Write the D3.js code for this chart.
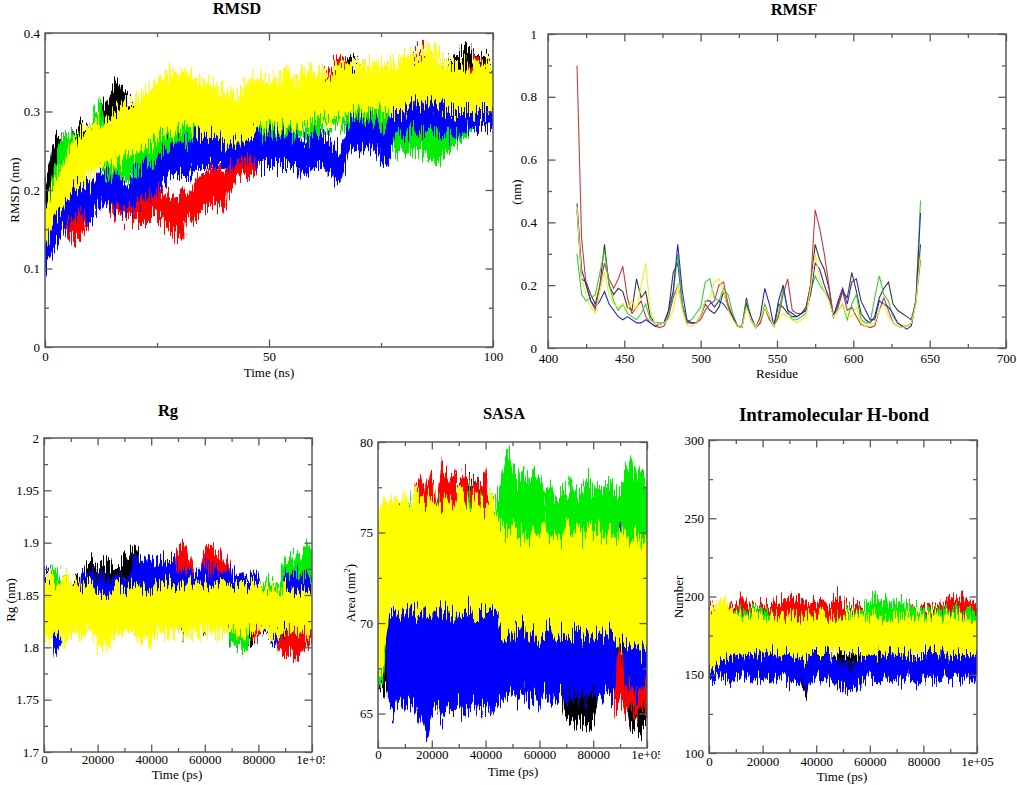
<!DOCTYPE html>
<html>
<head>
<meta charset="utf-8">
<script src="https://cdn.jsdelivr.net/npm/d3@7"></script>
<style>
body { margin: 0; background: #fff; }
svg { display: block; }
</style>
</head>
<body>
<svg id="fig" width="1017" height="785"></svg>
<script>
// series colours, in xmgrace order: black, red, green, blue, yellow
var COLORS = ['#000000', '#ff0000', '#00ee00', '#0000ff', '#ffff00'];
var RMSF_COLORS = ['#3a3a3a', '#c43c3c', '#3cc83c', '#2a2ab8', '#eeee30'];
var FONT = '"Liberation Serif", "Times New Roman", serif';

// ---- RMSD (nm), every 2 ns, lower / upper edge of the noise band ----
var rmsdTime = d3.range(0, 101, 2);
var rmsdBlackLo = [0.15,0.19,0.21,0.22,0.23,0.23,0.24,0.26,0.27,0.26, 0.25,0.24,0.25,0.24,0.25,0.25,0.26,0.25,0.26,0.25, 0.25,0.24,0.25,0.26,0.25,0.27,0.26,0.28,0.27,0.28, 0.29,0.28,0.30,0.31,0.31,0.32,0.31,0.32,0.31,0.32, 0.31,0.32,0.32,0.31,0.32,0.31,0.32,0.33,0.32,0.33, 0.32];
var rmsdBlackHi = [0.20,0.26,0.27,0.27,0.28,0.28,0.30,0.31,0.34,0.32, 0.31,0.29,0.30,0.29,0.30,0.30,0.31,0.30,0.31,0.30, 0.30,0.29,0.30,0.31,0.30,0.32,0.31,0.32,0.33,0.32, 0.34,0.33,0.35,0.36,0.37,0.36,0.36,0.35,0.36,0.35, 0.36,0.37,0.36,0.36,0.37,0.36,0.37,0.38,0.37,0.37, 0.36];
var rmsdRedLo = [0.11,0.14,0.15,0.14,0.14,0.16,0.18,0.18,0.17,0.16, 0.16,0.16,0.17,0.16,0.15,0.14,0.16,0.17,0.18,0.18, 0.18,0.21,0.22,0.22,0.23,0.24,0.26,0.28,0.29,0.29, 0.30,0.31,0.32,0.32,0.32,0.32,0.31,0.31,0.30,0.30, 0.31,0.33,0.33,0.32,0.31,0.31,0.31,0.32,0.32,0.32, 0.32];
var rmsdRedHi = [0.15,0.18,0.19,0.18,0.19,0.20,0.22,0.22,0.21,0.20, 0.20,0.21,0.22,0.20,0.19,0.19,0.20,0.21,0.22,0.23, 0.22,0.25,0.26,0.27,0.27,0.29,0.30,0.32,0.33,0.34, 0.34,0.35,0.36,0.37,0.36,0.36,0.35,0.35,0.34,0.35, 0.36,0.37,0.38,0.37,0.36,0.35,0.36,0.36,0.37,0.36, 0.36];
var rmsdGreenLo = [0.11,0.17,0.21,0.22,0.21,0.23,0.23,0.22,0.21,0.22, 0.22,0.23,0.23,0.24,0.25,0.25,0.25,0.25,0.26,0.25, 0.25,0.26,0.27,0.27,0.26,0.26,0.26,0.27,0.27,0.27, 0.26,0.28,0.28,0.28,0.28,0.28,0.27,0.26,0.26,0.25, 0.25,0.25,0.25,0.24,0.24,0.25,0.26,0.27,0.28,0.28, 0.28];
var rmsdGreenHi = [0.15,0.23,0.27,0.27,0.27,0.28,0.31,0.28,0.27,0.28, 0.28,0.28,0.29,0.29,0.30,0.30,0.30,0.30,0.31,0.30, 0.30,0.31,0.32,0.31,0.31,0.31,0.31,0.31,0.32,0.31, 0.31,0.32,0.33,0.32,0.33,0.32,0.31,0.30,0.30,0.29, 0.29,0.30,0.29,0.29,0.29,0.30,0.31,0.32,0.32,0.32, 0.32];
var rmsdBlueLo = [0.10,0.13,0.15,0.16,0.17,0.16,0.18,0.18,0.18,0.17, 0.18,0.19,0.19,0.21,0.22,0.22,0.22,0.23,0.23,0.23, 0.23,0.23,0.24,0.24,0.23,0.23,0.23,0.23,0.23,0.22, 0.23,0.23,0.22,0.21,0.25,0.25,0.25,0.25,0.23,0.27, 0.27,0.28,0.27,0.28,0.27,0.27,0.27,0.28,0.28,0.28, 0.28];
var rmsdBlueHi = [0.13,0.17,0.19,0.21,0.21,0.20,0.22,0.22,0.22,0.21, 0.22,0.23,0.23,0.25,0.26,0.26,0.26,0.27,0.27,0.27, 0.27,0.27,0.28,0.28,0.27,0.27,0.27,0.27,0.27,0.26, 0.27,0.27,0.26,0.25,0.29,0.29,0.29,0.29,0.27,0.31, 0.32,0.32,0.31,0.32,0.32,0.32,0.31,0.32,0.32,0.32, 0.32];
var rmsdYellowLo = [0.13,0.16,0.18,0.20,0.21,0.22,0.23,0.23,0.23,0.24, 0.24,0.25,0.26,0.27,0.27,0.28,0.28,0.27,0.27,0.27, 0.26,0.26,0.26,0.27,0.28,0.28,0.28,0.28,0.28,0.28, 0.29,0.29,0.29,0.29,0.30,0.30,0.30,0.30,0.30,0.30, 0.30,0.31,0.31,0.31,0.31,0.30,0.30,0.30,0.30,0.30, 0.30];
var rmsdYellowHi = [0.17,0.21,0.23,0.26,0.27,0.28,0.29,0.29,0.30,0.31, 0.31,0.32,0.33,0.34,0.35,0.35,0.35,0.34,0.34,0.33, 0.33,0.32,0.33,0.34,0.34,0.34,0.34,0.35,0.34,0.35, 0.35,0.35,0.35,0.36,0.36,0.36,0.36,0.36,0.36,0.36, 0.37,0.37,0.37,0.38,0.37,0.36,0.36,0.36,0.36,0.36, 0.36];

// ---- RMSF (nm) per residue, every 3 residues ----
var residues = d3.range(419, 645, 3);
var rmsfBlack = [0.44,0.22,0.21,0.17,0.14,0.2,0.33,0.2,0.17,0.19, 0.18,0.13,0.12,0.22,0.16,0.18,0.1,0.08,0.075,0.08, 0.12,0.24,0.27,0.14,0.085,0.08,0.08,0.1,0.14,0.12, 0.11,0.13,0.18,0.13,0.1,0.07,0.065,0.16,0.09,0.065, 0.08,0.13,0.1,0.07,0.14,0.13,0.11,0.1,0.1,0.11, 0.13,0.2,0.33,0.28,0.25,0.19,0.1,0.14,0.18,0.16, 0.24,0.18,0.11,0.09,0.08,0.1,0.16,0.19,0.21,0.14, 0.12,0.11,0.1,0.09,0.15,0.33];
var rmsfRed = [0.9,0.35,0.2,0.15,0.12,0.2,0.27,0.22,0.19,0.22, 0.26,0.16,0.11,0.13,0.15,0.1,0.08,0.07,0.065,0.07, 0.1,0.16,0.2,0.13,0.08,0.08,0.08,0.09,0.12,0.14, 0.15,0.2,0.21,0.14,0.1,0.07,0.065,0.14,0.09,0.065, 0.08,0.13,0.09,0.07,0.1,0.17,0.22,0.12,0.11,0.11, 0.12,0.2,0.44,0.38,0.3,0.2,0.1,0.13,0.18,0.12, 0.13,0.1,0.075,0.07,0.065,0.07,0.12,0.16,0.12,0.08, 0.07,0.065,0.07,0.08,0.15,0.28];
var rmsfGreen = [0.3,0.17,0.15,0.16,0.17,0.24,0.31,0.2,0.15,0.12, 0.14,0.11,0.1,0.09,0.11,0.14,0.09,0.08,0.08,0.08, 0.11,0.17,0.3,0.14,0.085,0.09,0.11,0.13,0.21,0.22, 0.16,0.15,0.19,0.17,0.11,0.07,0.07,0.15,0.1,0.065, 0.09,0.14,0.1,0.07,0.11,0.19,0.12,0.09,0.09,0.1, 0.11,0.18,0.23,0.2,0.18,0.16,0.1,0.12,0.14,0.09, 0.14,0.17,0.09,0.08,0.08,0.16,0.23,0.17,0.15,0.1, 0.08,0.07,0.07,0.075,0.15,0.47];
var rmsfBlue = [0.46,0.25,0.2,0.15,0.13,0.15,0.18,0.14,0.12,0.1, 0.09,0.1,0.09,0.08,0.08,0.09,0.08,0.07,0.075,0.08, 0.12,0.18,0.33,0.18,0.09,0.08,0.08,0.1,0.15,0.15, 0.13,0.15,0.14,0.12,0.1,0.07,0.065,0.14,0.1,0.065, 0.1,0.19,0.14,0.07,0.15,0.2,0.12,0.11,0.1,0.11, 0.12,0.17,0.27,0.25,0.2,0.16,0.1,0.15,0.19,0.14, 0.21,0.22,0.15,0.12,0.09,0.09,0.15,0.14,0.13,0.11, 0.08,0.07,0.06,0.07,0.15,0.43];
var rmsfYellow = [0.45,0.22,0.17,0.13,0.11,0.18,0.24,0.17,0.14,0.13, 0.14,0.12,0.15,0.12,0.2,0.27,0.12,0.08,0.075,0.08, 0.09,0.12,0.2,0.12,0.07,0.07,0.08,0.1,0.15,0.16, 0.21,0.22,0.18,0.12,0.09,0.07,0.065,0.13,0.09,0.065, 0.09,0.13,0.1,0.07,0.09,0.11,0.1,0.09,0.08,0.09, 0.1,0.19,0.3,0.22,0.18,0.15,0.1,0.12,0.14,0.1, 0.1,0.13,0.08,0.07,0.07,0.08,0.12,0.14,0.1,0.08, 0.07,0.065,0.07,0.08,0.14,0.3];

// ---- Rg (nm), every 2000 ps ----
var psTime = d3.range(0, 100001, 2000);
var rgBlackLo = [1.835,1.84,1.838,1.842,1.836, 1.83,1.832,1.835, 1.845,1.848,1.85,1.846,1.844,1.848,1.85, 1.852,1.855,1.858,1.85, 1.832,1.835,1.83,1.834,1.83, 1.815,1.818,1.814,1.82,1.816,1.818,1.815, 1.825,1.828,1.824,1.826, 1.8,1.805,1.798,1.802,1.806, 1.82,1.822,1.818,1.824,1.82, 1.802,1.8,1.805,1.798,1.803,1.806];
var rgBlackHi = [1.87,1.868,1.872,1.866,1.87, 1.862,1.866,1.864, 1.878,1.882,1.876,1.88,1.878,1.874,1.88, 1.885,1.89,1.895,1.882, 1.865,1.868,1.862,1.866,1.86, 1.84,1.838,1.842,1.836,1.84,1.838,1.842, 1.855,1.852,1.856,1.85, 1.825,1.822,1.826,1.82,1.828, 1.85,1.848,1.852,1.846,1.85, 1.83,1.826,1.832,1.828,1.83,1.826];
var rgRedLo = [1.83,1.832,1.828,1.834,1.83,1.826,1.832,1.83,1.834,1.828,1.83, 1.815,1.818,1.814,1.816,1.818,1.815,1.817, 1.835,1.838,1.834,1.836,1.84,1.836,1.838, 1.862,1.865,1.86, 1.845,1.848, 1.86,1.864,1.858,1.862,1.86, 1.84,1.844,1.842, 1.81,1.812,1.808, 1.82,1.822,1.818, 1.795,1.792,1.796,1.79,1.794, 1.805,1.8];
var rgRedHi = [1.86,1.862,1.858,1.864,1.86,1.856,1.862,1.86,1.864,1.858,1.86, 1.835,1.832,1.836,1.83,1.834,1.832,1.836, 1.865,1.862,1.866,1.864,1.868,1.862,1.866, 1.895,1.9,1.89, 1.87,1.872, 1.89,1.898,1.886,1.892,1.885, 1.87,1.868,1.872, 1.83,1.834,1.828, 1.845,1.842,1.846, 1.815,1.812,1.816,1.81,1.814, 1.825,1.82];
var rgGreenLo = [1.84,1.845,1.842,1.838, 1.815,1.812,1.818, 1.83,1.832,1.828,1.834,1.83,1.832,1.828,1.83,1.834,1.83,1.832,1.828,1.83,1.832, 1.83,1.828,1.832,1.83,1.834,1.828,1.83,1.832,1.83,1.828,1.834,1.83,1.832,1.83, 1.8,1.805,1.798,1.802, 1.83,1.832,1.828,1.834,1.83,1.832, 1.85,1.855,1.852,1.858,1.854,1.856];
var rgGreenHi = [1.875,1.872,1.876,1.87, 1.84,1.838,1.842, 1.86,1.862,1.858,1.864,1.86,1.862,1.858,1.86,1.864,1.86,1.862,1.858,1.86,1.862, 1.86,1.858,1.862,1.86,1.864,1.858,1.86,1.862,1.86,1.858,1.864,1.86,1.862,1.86, 1.83,1.828,1.832,1.826, 1.86,1.862,1.858,1.864,1.86,1.862, 1.885,1.89,1.882,1.888,1.9,1.886];
var rgBlueLo = [1.842,1.845, 1.795,1.8, 1.825,1.828, 1.815, 1.83,1.834,1.83,1.835,1.832,1.83, 1.84,1.842,1.838,1.842, 1.845,1.848,1.846,1.85,1.847,1.845,1.848,1.846, 1.84,1.842,1.838,1.844,1.84,1.842,1.838,1.84,1.844,1.84, 1.845,1.848,1.844,1.846,1.85,1.845, 1.81,1.812,1.808,1.812, 1.835,1.838,1.834,1.836,1.84,1.836];
var rgBlueHi = [1.875,1.872, 1.825,1.822, 1.855,1.852, 1.832, 1.87,1.866,1.872,1.868,1.87,1.866, 1.865,1.868,1.862,1.866, 1.885,1.88,1.884,1.878,1.882,1.886,1.88,1.884, 1.875,1.872,1.876,1.87,1.874,1.878,1.872,1.875,1.87,1.874, 1.87,1.868,1.872,1.866,1.87,1.868, 1.835,1.832,1.836,1.83, 1.87,1.868,1.872,1.866,1.87,1.868];
var rgYellowLo = [1.81,1.808,1.812,1.81,1.806,1.81, 1.815,1.812,1.816,1.814, 1.8,1.798,1.802, 1.815,1.812,1.816,1.814, 1.81,1.806,1.808, 1.804, 1.815,1.812,1.816,1.814,1.818,1.815,1.812,1.816,1.814,1.818, 1.815,1.812,1.816,1.814,1.818,1.815,1.812,1.816,1.814,1.818, 1.815,1.812,1.816,1.814,1.818,1.815,1.812,1.816,1.814,1.818];
var rgYellowHi = [1.865,1.868,1.862,1.866,1.87,1.864, 1.86,1.858,1.862,1.86, 1.85,1.852,1.848, 1.855,1.858,1.852,1.856, 1.86,1.858,1.856, 1.85, 1.86,1.858,1.862,1.86,1.856,1.86,1.862,1.858,1.86,1.862, 1.86,1.858,1.862,1.86,1.856,1.86,1.862,1.858,1.86,1.862, 1.855,1.852,1.856,1.854,1.858,1.855,1.852,1.856,1.854,1.858];

// ---- SASA area (nm^2), every 2000 ps ----
var sasaBlackLo = [66.2,66.5,66.0,66.4,66.1,66.6,66.3,66.0,66.5,66.2,66.4,66.1,66.6,66.3,66.0, 74.0,74.5,74.2,74.6,74.1,74.4, 66.2,66.5,66.0,66.4,66.1,66.6,66.3,66.0,66.5,66.2,66.4,66.1,66.6,66.3, 64.6,64.3,64.8,64.4,64.7,64.5, 66.0,66.3,65.8,66.2,65.9,66.1, 64.2,64.5,64.0,64.4];
var sasaBlackHi = [70.0,70.3,69.8,70.2,69.9,70.4,70.1,69.8,70.3,70.0,70.2,69.9,70.4,70.1,69.8, 77.6,78.2,77.8,78.0,77.4,77.9, 70.0,70.3,69.8,70.2,69.9,70.4,70.1,69.8,70.3,70.0,70.2,69.9,70.4,70.1, 67.8,68.2,67.6,68.0,67.9,68.1, 69.4,69.8,69.2,69.6,69.3,69.5, 67.6,67.9,67.4,67.8];
var sasaRedLo = [72.0,72.4,71.8,72.2,72.6,72.1,72.3, 74.2,74.6,74.0,74.4,73.6,74.8,74.3,74.5,74.1,74.6,74.2,74.4,74.0,74.5, 71.5,71.8,71.3,71.6,71.9,71.4,71.7,71.5,71.8,71.3,71.6,71.9,71.4,71.7,71.5,71.8,71.3,71.6,71.9,71.4,71.7,71.5,71.8, 65.2,65.6,65.0,65.4,64.8,65.3,65.5];
var sasaRedHi = [75.5,76.0,75.2,75.8,76.4,75.6,75.9, 77.6,78.2,77.4,78.0,77.0,78.8,77.8,78.1,77.5,78.3,77.6,77.9,77.3,78.0, 76.0,76.4,75.8,76.2,76.6,75.9,76.3,77.0,76.1,75.8,76.2,76.5,75.9,77.2,76.0,76.4,75.8,76.2,76.6,75.9,76.3,76.0,76.4, 68.0,68.4,67.8,68.2,67.6,68.1,68.3];
var sasaGreenLo = [66.5,67.0, 72.4,72.8,72.2,72.6,73.0,72.5,72.8,72.3,72.7,72.9,72.4,72.6,72.2,72.8,72.5,72.9,72.3,72.7,72.4,72.8,72.6, 73.2,73.6,73.0,73.4,73.8,73.1,73.5,73.3, 72.4,72.8,72.2,72.6, 73.0,73.4,72.8,73.2,73.6,72.9,73.3,73.1,73.5,73.0, 72.2,72.6,71.8,72.4,72.8,73.0];
var sasaGreenHi = [70.0,70.5, 76.0,76.6,75.8,76.4,77.0,76.2,76.8,76.0,76.5,76.9,76.2,76.6,75.9,76.8,76.3,77.2,76.1,76.7,76.2,76.9,76.5, 78.0,79.6,78.4,77.8,78.6,77.6,78.2,78.0, 77.0,77.6,76.8,77.3, 77.2,77.8,77.0,77.5,78.0,77.1,77.6,77.3,77.9,77.2, 77.5,78.2,79.0,77.8,78.4,77.6];
var sasaBlueLo = [73.5,74.0, 65.4,65.0,65.6,65.2,65.8,65.1,64.6,63.6,65.0,65.4,64.8,65.5,65.2,65.6,64.9,65.3,65.7,65.1,65.5,65.0,65.6, 66.0,65.6,66.2,65.8,66.4,65.7,66.1,65.5,66.3,65.9,65.6,66.2,65.8,66.4,65.7,66.0,65.6,66.2,65.8,66.3,65.9,66.1, 72.2, 66.2,66.6,66.0,66.4,66.8];
var sasaBlueHi = [76.0,75.8, 70.2,70.6,71.0,70.4,71.6,70.8,71.0,70.4,70.8,71.2,70.5,70.9,71.4,70.6,71.0,71.8,70.7,71.2,70.6,71.0,70.4, 69.8,70.3,69.6,70.1,69.5,70.4,69.8,70.2,69.6,70.5,69.9,70.2,69.7,70.3,69.8,70.1,69.6,70.4,69.9,70.2,69.7,70.0, 75.0, 69.4,69.8,69.2,69.6,69.0];
var sasaYellowLo = [67.4,67.8, 70.6,70.9,70.4,70.8,71.0,70.5,70.9,70.3,70.7,71.1,70.5,70.8,70.4,70.9,70.6,71.0,70.4,70.8,70.5,70.9,70.6, 69.6,69.2,69.8,69.4,70.0,69.3,69.7,69.1,69.5,69.9,69.2,69.6,69.0,69.4,69.8,69.3,69.6,69.0,69.5,69.2,69.7,69.4, 68.8,69.2,68.6,69.0,68.4,68.9];
var sasaYellowHi = [76.2,76.6, 76.4,76.9,76.2,77.0,76.6,77.4,76.8,76.5,77.2,76.7,76.3,77.0,76.6,77.6,76.8,76.4,77.1,76.6,76.2,76.9,76.0, 75.2,74.8,75.4,74.6,75.0,74.4,75.2,74.8,75.6,74.6,75.0,74.5,75.3,74.8,75.1,74.6,75.4,74.9,75.2,74.6,75.0,74.8, 74.6,75.0,74.4,74.8,74.2,74.6];

// ---- intramolecular H-bond count, every 2000 ps ----
var hbBlackLo = [152,151,153,152,150,153,154,152,151,153, 152,153,151,153,152,150,149,143,137,150, 153,152,153,151,153,152,150,153,154,152, 151,153,152,153,151,153,152,150,153,154, 152,151,153,152,153,151,153,152,150,153, 152];
var hbBlackHi = [163,160,164,161,162,165,160,163,161,164, 162,160,163,161,164,162,160,158,155,162, 163,161,164,160,162,163,161,164,162,160, 163,161,164,162,160,163,161,164,162,160, 163,161,164,162,160,163,161,164,162,160, 163];
var hbRedLo = [180,182,181,183,180,184,182,181,183,180, 182,181,184,182,180,183,181,182,180,183, 182,181,184,182,180,183,181,182,180,183, 182,181,184,182,180,183,181,182,180,183, 182,181,184,182,180,183,181,182,180,183, 182];
var hbRedHi = [193,195,192,194,196,193,200,195,194,193, 195,194,197,196,198,199,197,200,196,195, 197,199,194,196,201,195,193,194,196,192, 194,195,193,194,192,195,193,194,196,192, 194,195,193,194,196,199,197,201,198,196, 195];
var hbGreenLo = [178,180,177,179,181,178,180,177,179,181, 178,180,177,179,181,178,180,177,179,181, 178,176,179,177,180,178,179,177,180,178, 179,177,176,178,180,177,179,175,178,177, 180,178,179,177,180,178,179,181,178,180, 179];
var hbGreenHi = [190,192,189,191,193,190,192,189,191,193, 190,192,187,185,188,186,184,187,185,188, 186,184,187,185,188,186,192,189,191,193, 197,199,196,198,195,197,196,194,195,193, 190,192,189,191,193,190,192,189,191,193, 190];
var hbBlueLo = [148,146,149,147,145,148,150,147,146,149, 147,148,146,149,147,145,147,144,142,146, 149,147,148,146,143,141,140,142,144,146, 148,146,145,149,147,148,146,149,147,145, 148,150,147,146,149,147,148,146,149,147, 145];
var hbBlueHi = [166,163,165,162,164,167,163,165,162,164, 166,163,165,162,164,162,160,161,159,163, 162,160,163,161,158,157,156,158,160,163, 164,162,161,165,163,162,164,163,161,160, 163,165,162,164,166,163,165,162,164,161, 163];
var hbYellowLo = [156,154,158,160,163,162,164,163,165,162, 164,163,165,162,164,163,161,162,160,163, 165,162,164,163,166,164,165,163,165,162, 164,163,165,162,164,163,165,162,164,163, 166,164,165,163,165,162,164,163,165,162, 164];
var hbYellowHi = [190,194,197,198,193,188,186,188,187,189, 186,188,187,189,186,188,187,185,186,188, 187,189,186,188,185,187,186,188,187,189, 186,188,187,185,186,188,187,189,186,188, 185,187,186,188,187,189,186,188,187,185, 186];

// ---- ticks ----
var rmsdXMajor = [0, 50, 100], rmsdXMinor = [25, 75];
var rmsdXLabels = ['0', '50', '100'];
var rmsdYMajor = [0, 0.1, 0.2, 0.3, 0.4], rmsdYMinor = [0.05, 0.15, 0.25, 0.35];
var rmsdYLabels = ['0', '0.1', '0.2', '0.3', '0.4'];
var rmsfXMajor = [400, 450, 500, 550, 600, 650, 700], rmsfXMinor = [425, 475, 525, 575, 625, 675];
var rmsfXLabels = ['400', '450', '500', '550', '600', '650', '700'];
var rmsfYMajor = [0, 0.2, 0.4, 0.6, 0.8, 1], rmsfYMinor = [0.1, 0.3, 0.5, 0.7, 0.9];
var rmsfYLabels = ['0', '0.2', '0.4', '0.6', '0.8', '1'];
var psXMajor = [0, 20000, 40000, 60000, 80000, 100000];
var psXMinor = [10000, 30000, 50000, 70000, 90000];
var psXLabels = ['0', '20000', '40000', '60000', '80000', '1e+05'];
var rgYMajor = [1.7, 1.75, 1.8, 1.85, 1.9, 1.95, 2];
var rgYMinor = [1.725, 1.775, 1.825, 1.875, 1.925, 1.975];
var rgYLabels = ['1.7', '1.75', '1.8', '1.85', '1.9', '1.95', '2'];
var sasaYMajor = [65, 70, 75, 80], sasaYMinor = [67.5, 72.5, 77.5];
var sasaYLabels = ['65', '70', '75', '80'];
var hbYMajor = [100, 150, 200, 250, 300], hbYMinor = [125, 175, 225, 275];
var hbYLabels = ['100', '150', '200', '250', '300'];

var svg = d3.select('#fig');
var defs = svg.append('defs');
var clipCount = 0;

var makeClip = function (x0, y0, w, h) {
	var id = 'clip' + (clipCount++);
	defs.append('clipPath').attr('id', id)
		.append('rect').attr('x', x0).attr('y', y0).attr('width', w).attr('height', h);
	return 'url(#' + id + ')';
};

// frame-to-frame jitter of the trajectories: shifts each pixel column up or down a little
var makeJitter = function (id, scale, seed) {
	var f = defs.append('filter').attr('id', id)
		.attr('filterUnits', 'userSpaceOnUse')
		.attr('x', 0).attr('y', 0).attr('width', 1017).attr('height', 785)
		.attr('color-interpolation-filters', 'sRGB');
	f.append('feTurbulence').attr('type', 'fractalNoise')
		.attr('baseFrequency', '0.75 0.035').attr('numOctaves', 2)
		.attr('seed', seed).attr('result', 'noise');
	f.append('feColorMatrix').attr('in', 'noise').attr('type', 'matrix')
		.attr('values', '0 0 0 0 0.5  0 2.2 0 0 -0.6  0 0 0 0 0  0 0 0 0 1')
		.attr('result', 'shift');
	f.append('feDisplacementMap').attr('in', 'SourceGraphic').attr('in2', 'shift')
		.attr('scale', scale).attr('xChannelSelector', 'R').attr('yChannelSelector', 'G');
	return 'url(#' + id + ')';
};

var addTicks = function (g, axis, shift, values, labels, size, pad) {
	axis.tickValues(values).tickSize(-size).tickPadding(pad || 5)
		.tickFormat(function (d, i) { return labels ? labels[i] : ''; });
	var a = g.append('g').attr('transform', shift).call(axis);
	a.attr('font-family', FONT).attr('font-size', 13);
	a.select('.domain').remove();
	a.selectAll('line').attr('stroke', '#5a5a5a').attr('stroke-width', 1.3);
	a.selectAll('text').attr('fill', '#000');
};

var drawPanel = function (p) {
	var g = svg.append('g');
	if (p.clip) {
		g.attr('clip-path', makeClip(p.clip[0], p.clip[1], p.clip[2], p.clip[3]));
	}
	var x = d3.scaleLinear().domain(p.xDomain).range([p.left, p.right]);
	var y = d3.scaleLinear().domain(p.yDomain).range([p.bottom, p.top]);
	var plot = g.append('g')
		.attr('clip-path', makeClip(p.left, p.top, p.right - p.left, p.bottom - p.top))
		.append('g');
	if (p.jitter) {
		plot.attr('filter', makeJitter('jit' + clipCount, p.jitter, clipCount * 7 + 3));
	}
	p.draw(plot, x, y);

	g.append('rect')
		.attr('x', p.left).attr('y', p.top)
		.attr('width', p.right - p.left).attr('height', p.bottom - p.top)
		.attr('fill', 'none').attr('stroke', '#5a5a5a').attr('stroke-width', 1.5);

	var major = 7.5, minor = 4;
	addTicks(g, d3.axisBottom(x), 'translate(0,' + p.bottom + ')', p.xMajor, p.xLabels, major, p.xPad);
	addTicks(g, d3.axisBottom(x), 'translate(0,' + p.bottom + ')', p.xMinor, null, minor);
	addTicks(g, d3.axisTop(x), 'translate(0,' + p.top + ')', p.xMajor, null, major);
	addTicks(g, d3.axisTop(x), 'translate(0,' + p.top + ')', p.xMinor, null, minor);
	addTicks(g, d3.axisLeft(y), 'translate(' + p.left + ',0)', p.yMajor, p.yLabels, major, p.yPad || 5);
	addTicks(g, d3.axisLeft(y), 'translate(' + p.left + ',0)', p.yMinor, null, minor);
	addTicks(g, d3.axisRight(y), 'translate(' + p.right + ',0)', p.yMajor, null, major);
	addTicks(g, d3.axisRight(y), 'translate(' + p.right + ',0)', p.yMinor, null, minor);

	g.append('text')
		.attr('x', p.titleX).attr('y', p.titleY)
		.attr('text-anchor', 'middle')
		.attr('font-family', FONT).attr('font-weight', 'bold')
		.attr('font-size', p.titleSize || 16.5)
		.text(p.title);
	g.append('text')
		.attr('x', p.xTitleX).attr('y', p.xTitleY)
		.attr('text-anchor', 'middle')
		.attr('font-family', FONT).attr('font-size', 13)
		.text(p.xTitle);
	var yt = g.append('text')
		.attr('transform', 'translate(' + p.yTitleX + ',' + p.yTitleY + ') rotate(-90)')
		.attr('dy', '0.35em')
		.attr('text-anchor', 'middle')
		.attr('font-family', FONT).attr('font-size', 13);
	if (p.yTitleSup) {
		yt.append('tspan').text(p.yTitle);
		yt.append('tspan').attr('baseline-shift', 'super').attr('font-size', 9).text(p.yTitleSup);
		yt.append('tspan').text(')');
	} else {
		yt.text(p.yTitle);
	}
};

// noisy trajectories: each series is a filled band between its lower and upper edge
var bandPainter = function (times, bands) {
	return function (plot, x, y) {
		bands.forEach(function (b, k) {
			var area = d3.area()
				.x(function (d, i) { return x(times[i]); })
				.y0(function (d, i) { return y(b[0][i]); })
				.y1(function (d, i) { return y(b[1][i]); });
			plot.append('path').datum(b[0])
				.attr('d', area)
				.attr('fill', COLORS[k])
				.attr('stroke', COLORS[k])
				.attr('stroke-width', 1.2);
		});
	};
};

drawPanel({
	left: 45, right: 493, top: 33, bottom: 347,
	xDomain: [0, 100], yDomain: [0, 0.4],
	xMajor: rmsdXMajor, xMinor: rmsdXMinor, xLabels: rmsdXLabels, xPad: 5,
	yMajor: rmsdYMajor, yMinor: rmsdYMinor, yLabels: rmsdYLabels,
	title: 'RMSD', titleX: 237, titleY: 14,
	xTitle: 'Time (ns)', xTitleX: 269, xTitleY: 377,
	yTitle: 'RMSD (nm)', yTitleX: 14, yTitleY: 190,
	jitter: 20,
	draw: bandPainter(rmsdTime, [
		[rmsdBlackLo, rmsdBlackHi], [rmsdRedLo, rmsdRedHi], [rmsdGreenLo, rmsdGreenHi],
		[rmsdBlueLo, rmsdBlueHi], [rmsdYellowLo, rmsdYellowHi]])
});

drawPanel({
	left: 548, right: 1006, top: 34, bottom: 348,
	xDomain: [400, 700], yDomain: [0, 1],
	xMajor: rmsfXMajor, xMinor: rmsfXMinor, xLabels: rmsfXLabels, xPad: 6,
	yMajor: rmsfYMajor, yMinor: rmsfYMinor, yLabels: rmsfYLabels, yPad: 11,
	title: 'RMSF', titleX: 794, titleY: 15,
	xTitle: 'Residue', xTitleX: 777, xTitleY: 378,
	yTitle: '(nm)', yTitleX: 516, yTitleY: 192,
	draw: function (plot, x, y) {
		var line = d3.line()
			.x(function (d, i) { return x(residues[i]); })
			.y(function (d) { return y(d); });
		[rmsfBlack, rmsfRed, rmsfGreen, rmsfBlue, rmsfYellow].forEach(function (s, k) {
			plot.append('path').datum(s)
				.attr('d', line)
				.attr('fill', 'none')
				.attr('stroke', RMSF_COLORS[k])
				.attr('stroke-width', 1.1);
		});
	}
});

drawPanel({
	left: 44, right: 312, top: 438, bottom: 752,
	xDomain: [0, 100000], yDomain: [1.7, 2],
	xMajor: psXMajor, xMinor: psXMinor, xLabels: psXLabels, xPad: 3,
	yMajor: rgYMajor, yMinor: rgYMinor, yLabels: rgYLabels,
	clip: [0, 390, 325, 395],
	title: 'Rg', titleX: 168, titleY: 416,
	xTitle: 'Time (ps)', xTitleX: 177, xTitleY: 779,
	yTitle: 'Rg (nm)', yTitleX: 10, yTitleY: 600,
	jitter: 18,
	draw: bandPainter(psTime, [
		[rgBlackLo, rgBlackHi], [rgRedLo, rgRedHi], [rgGreenLo, rgGreenHi],
		[rgBlueLo, rgBlueHi], [rgYellowLo, rgYellowHi]])
});

drawPanel({
	left: 378, right: 647, top: 442, bottom: 748,
	xDomain: [0, 100000], yDomain: [63.1, 80],
	xMajor: psXMajor, xMinor: psXMinor, xLabels: psXLabels, xPad: 2,
	yMajor: sasaYMajor, yMinor: sasaYMinor, yLabels: sasaYLabels,
	clip: [335, 390, 325, 395],
	title: 'SASA', titleX: 504, titleY: 419,
	xTitle: 'Time (ps)', xTitleX: 513, xTitleY: 776,
	yTitle: 'Area (nm', yTitleSup: '2', yTitleX: 350, yTitleY: 593,
	jitter: 22,
	draw: bandPainter(psTime, [
		[sasaBlackLo, sasaBlackHi], [sasaRedLo, sasaRedHi], [sasaGreenLo, sasaGreenHi],
		[sasaBlueLo, sasaBlueHi], [sasaYellowLo, sasaYellowHi]])
});

drawPanel({
	left: 709, right: 977, top: 440, bottom: 753,
	xDomain: [0, 100000], yDomain: [100, 300],
	xMajor: psXMajor, xMinor: psXMinor, xLabels: psXLabels, xPad: 4,
	yMajor: hbYMajor, yMinor: hbYMinor, yLabels: hbYLabels,
	title: 'Intramolecular H-bond', titleX: 834, titleY: 421, titleSize: 19,
	xTitle: 'Time (ps)', xTitleX: 842, xTitleY: 781,
	yTitle: 'Number', yTitleX: 678, yTitleY: 597,
	jitter: 16,
	draw: bandPainter(psTime, [
		[hbBlackLo, hbBlackHi], [hbRedLo, hbRedHi], [hbGreenLo, hbGreenHi],
		[hbBlueLo, hbBlueHi], [hbYellowLo, hbYellowHi]])
});
</script>
</body>
</html>
